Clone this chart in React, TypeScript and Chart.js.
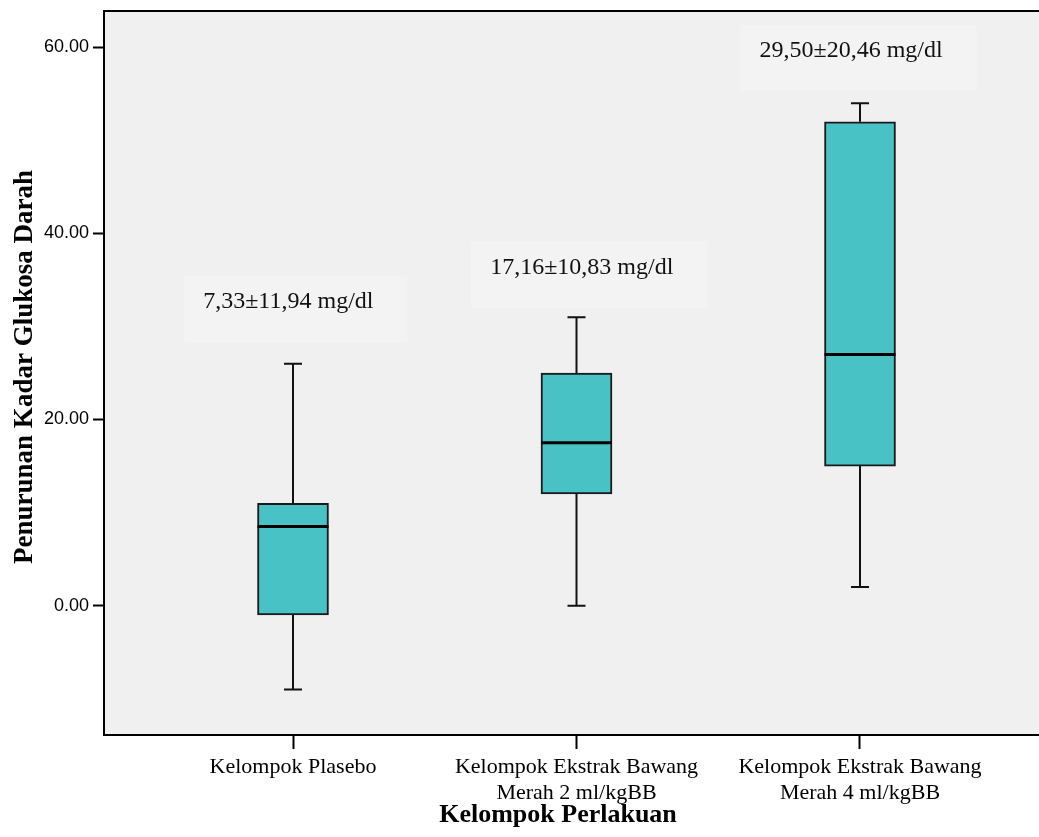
import React, { useEffect, useRef } from 'react';
import { Chart, registerables } from 'chart.js';

Chart.register(...registerables);

// ---- data ----
const categories: string[][] = [
  ['Kelompok Plasebo'],
  ['Kelompok Ekstrak Bawang', 'Merah 2 ml/kgBB'],
  ['Kelompok Ekstrak Bawang', 'Merah 4 ml/kgBB'],
];
const positions = [1, 2, 3];
const whiskerLow = [-9, 0, 2];
const q1 = [-1, 12, 15];
const median = [8.5, 17.5, 27];
const q3 = [11, 25, 52];
const whiskerHigh = [26, 31, 54];
const yTicks = [0, 20, 40, 60];
const summaryLabels = ['7,33±11,94 mg/dl', '17,16±10,83 mg/dl', '29,50±20,46 mg/dl'];
const summaryX = [1.01, 2.045, 2.995];
const summaryTopY = [35.4, 39.1, 62.4];
const yTitle = 'Penurunan Kadar Glukosa Darah';
const xTitle = 'Kelompok Perlakuan';

// ---- styles ----
const BOX_FILL = '#48c2c5';
const LINE = '#111111';
const PLOT_BG = '#f0f0f0';
const NOTE_BG = '#f3f3f3';
const BOX_W = 71;
const CAP_W = 18;

const boxPlugin = {
  id: 'boxExtras',
  beforeDraw(chart: any) {
    const { ctx, chartArea, scales } = chart;
    ctx.save();
    ctx.fillStyle = PLOT_BG;
    ctx.fillRect(chartArea.left, chartArea.top, chartArea.right - chartArea.left, chartArea.bottom - chartArea.top);
    // summary notes
    ctx.font = '24px "Liberation Serif", "Times New Roman", serif';
    ctx.textBaseline = 'alphabetic';
    ctx.textAlign = 'left';
    summaryLabels.forEach((t, i) => {
      const tw = ctx.measureText(t).width;
      const w = tw + 53;
      const cx = scales.x.getPixelForValue(summaryX[i]);
      const top = scales.y.getPixelForValue(summaryTopY[i]);
      const left = cx - w / 2;
      ctx.fillStyle = NOTE_BG;
      ctx.fillRect(left, top, w, 66);
      ctx.fillStyle = '#111';
      ctx.fillText(t, left + 19, top + 32);
    });
    ctx.restore();
  },
  beforeDatasetsDraw(chart: any) {
    const { ctx, scales } = chart;
    ctx.save();
    ctx.strokeStyle = LINE;
    ctx.lineWidth = 2;
    positions.forEach((p, i) => {
      const x = scales.x.getPixelForValue(p);
      const yLo = scales.y.getPixelForValue(whiskerLow[i]);
      const yQ1 = scales.y.getPixelForValue(q1[i]);
      const yQ3 = scales.y.getPixelForValue(q3[i]);
      const yHi = scales.y.getPixelForValue(whiskerHigh[i]);
      ctx.beginPath();
      ctx.moveTo(x, yQ3);
      ctx.lineTo(x, yHi);
      ctx.moveTo(x - CAP_W / 2, yHi);
      ctx.lineTo(x + CAP_W / 2, yHi);
      ctx.moveTo(x, yQ1);
      ctx.lineTo(x, yLo);
      ctx.moveTo(x - CAP_W / 2, yLo);
      ctx.lineTo(x + CAP_W / 2, yLo);
      ctx.stroke();
    });
    ctx.restore();
  },
  afterDatasetsDraw(chart: any) {
    const { ctx, scales } = chart;
    ctx.save();
    ctx.strokeStyle = '#000';
    ctx.lineWidth = 3;
    positions.forEach((p, i) => {
      const x = scales.x.getPixelForValue(p);
      const y = scales.y.getPixelForValue(median[i]);
      ctx.beginPath();
      ctx.moveTo(x - BOX_W / 2, y);
      ctx.lineTo(x + BOX_W / 2, y);
      ctx.stroke();
    });
    ctx.restore();
  },
  afterDraw(chart: any) {
    const { ctx, chartArea } = chart;
    ctx.save();
    ctx.strokeStyle = '#000';
    ctx.lineWidth = 2;
    ctx.beginPath();
    ctx.moveTo(chartArea.left - 1, chartArea.top);
    ctx.lineTo(chartArea.right, chartArea.top);
    ctx.stroke();
    ctx.fillStyle = '#000';
    ctx.textAlign = 'center';
    ctx.textBaseline = 'middle';
    // y title
    ctx.font = 'bold 27px "Liberation Serif", "Times New Roman", serif';
    ctx.save();
    ctx.translate(25, (chartArea.top + chartArea.bottom) / 2 - 6);
    ctx.rotate(-Math.PI / 2);
    ctx.fillText(yTitle, 0, 0);
    ctx.restore();
    // x title
    ctx.font = 'bold 26px "Liberation Serif", "Times New Roman", serif';
    ctx.fillText(xTitle, 558, chartArea.bottom + 80);
    ctx.restore();
  },
};

export default function App() {
  const ref = useRef<HTMLCanvasElement | null>(null);
  useEffect(() => {
    if (!ref.current) return;
    const chart = new Chart(ref.current, {
      type: 'bar',
      data: {
        datasets: [
          {
            label: 'box',
            data: positions.map((p, i) => ({ x: p, y: [q1[i], q3[i]] })) as any,
            backgroundColor: BOX_FILL,
            borderColor: '#1a1a1a',
            borderWidth: 2,
            borderSkipped: false,
            barThickness: BOX_W,
          },
        ],
      },
      options: {
        animation: false,
        responsive: false,
        devicePixelRatio: 1,
        layout: { padding: { top: 11, left: 0, right: 0, bottom: 0 } },
        plugins: { legend: { display: false }, tooltip: { enabled: false } },
        scales: {
          x: {
            type: 'linear',
            offset: false,
            min: 1 - 189 / 283.5,
            max: 1 - 189 / 283.5 + 935 / 283.5,
            afterBuildTicks: (s: any) => {
              s.ticks = positions.map((v) => ({ value: v }));
            },
            afterFit: (s: any) => {
              s.height = 102;
              s.paddingLeft = 0;
              s.paddingRight = 0;
            },
            ticks: {
              autoSkip: false,
              maxRotation: 0,
              minRotation: 0,
              padding: 5,
              color: '#000',
              font: { family: '"Liberation Serif", "Times New Roman", serif', size: 22, lineHeight: 1.18 },
              callback: (_v: any, i: number) => categories[i],
            },
            grid: { offset: false, drawOnChartArea: false, drawTicks: true, tickLength: 14, tickWidth: 2, tickColor: '#000' },
            border: { display: true, color: '#000', width: 2 },
          },
          y: {
            type: 'linear',
            min: -13.9,
            max: 63.9,
            afterBuildTicks: (s: any) => {
              s.ticks = yTicks.map((v) => ({ value: v }));
            },
            afterFit: (s: any) => {
              s.width = 104;
              s.paddingTop = 0;
              s.paddingBottom = 0;
            },
            ticks: {
              padding: 4,
              color: '#000',
              font: { family: '"Liberation Sans", Arial, sans-serif', size: 18 },
              callback: (v: any) => Number(v).toFixed(2),
            },
            grid: { drawOnChartArea: false, drawTicks: true, tickLength: 11, tickWidth: 2, tickColor: '#000' },
            border: { display: true, color: '#000', width: 2 },
          },
        },
      },
      plugins: [boxPlugin],
    });
    return () => chart.destroy();
  }, []);
  return (
    <div style={{ position: 'absolute', left: 0, top: 0, width: 1039, height: 837, background: '#fff' }}>
      <canvas ref={ref} width={1039} height={837} style={{ display: 'block' }} />
    </div>
  );
}
